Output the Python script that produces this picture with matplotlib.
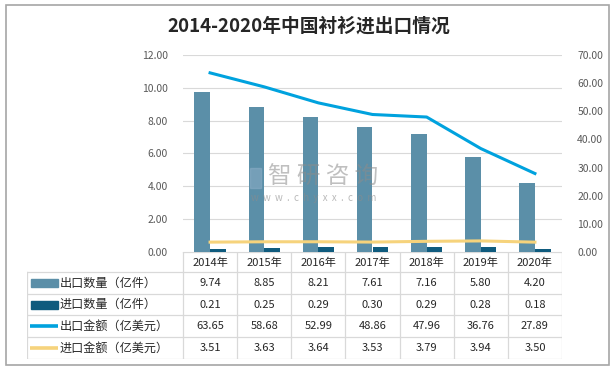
import matplotlib.pyplot as plt
import numpy as np
from matplotlib.patches import Rectangle

plt.rcParams['font.family'] = ['Noto Sans CJK SC', 'DejaVu Sans']

# data
years = ["2014年", "2015年", "2016年", "2017年", "2018年", "2019年", "2020年"]
export_qty = [9.74, 8.85, 8.21, 7.61, 7.16, 5.80, 4.20]      # 亿件
import_qty = [0.21, 0.25, 0.29, 0.30, 0.29, 0.28, 0.18]      # 亿件
export_val = [63.65, 58.68, 52.99, 48.86, 47.96, 36.76, 27.89]  # 亿美元
import_val = [3.51, 3.63, 3.64, 3.53, 3.79, 3.94, 3.50]      # 亿美元
series_names = ["出口数量（亿件）", "进口数量（亿件）", "出口金额（亿美元）", "进口金额（亿美元）"]

c_exq = "#5B8FA8"
c_imq = "#0F5B7E"
c_exv = "#00A2DE"
c_imv = "#F6D37C"
grid_c = "#D9D9D9"
txt_c = "#595959"

W, H = 614, 371
fig = plt.figure(figsize=(W / 100, H / 100), dpi=100)

def box(x0, y0, x1, y1):
    # pixel box (top-left origin) -> figure fraction rect
    return [x0 / W, 1 - y1 / H, (x1 - x0) / W, (y1 - y0) / H]

# outer border
fig.add_artist(Rectangle((6 / W, 1 - 365 / H), 603 / W, 360 / H, transform=fig.transFigure,
                         fill=False, edgecolor="#A6A6A6", lw=1.2))

fig.text(309 / W, 1 - 26 / H, "2014-2020年中国衬衫进出口情况", ha="center", va="center",
         fontsize=13.5, fontweight="bold", color="#262626")

# main plot
px0, px1, py0, py1 = 183, 562, 55, 252
ax = fig.add_axes(box(px0, py0, px1, py1))
x = np.arange(len(years))
bw = 0.29
ax.bar(x - bw / 2, export_qty, bw, color=c_exq, zorder=2)
ax.bar(x + bw / 2, import_qty, bw, color=c_imq, zorder=2)
ax.set_xlim(-0.5, len(years) - 0.5)
ax.set_ylim(0, 12)
ax.set_yticks(np.arange(0, 13, 2))
ax.set_yticklabels(["%.2f" % v for v in np.arange(0, 13, 2)])
ax.set_xticks([])
ax.grid(axis="y", color=grid_c, lw=0.8, zorder=0)
for s in ax.spines.values():
    s.set_visible(False)
ax.tick_params(axis="y", length=0, labelsize=7.5, labelcolor=txt_c, pad=11)

ax2 = ax.twinx()
ax2.plot(x, export_val, color=c_exv, lw=2.2, zorder=3)
ax2.plot(x, import_val, color=c_imv, lw=2.2, zorder=3)
ax2.set_ylim(0, 70)
ax2.set_yticks(np.arange(0, 71, 10))
ax2.set_yticklabels(["%.2f" % v for v in np.arange(0, 71, 10)])
for s in ax2.spines.values():
    s.set_visible(False)
ax2.tick_params(axis="y", length=0, labelsize=7.5, labelcolor=txt_c, pad=11)

# watermark
fig.text(323 / W, 1 - 177 / H, "智 研 咨 询", ha="center", va="center", fontsize=17,
         color="#8c8c8c", alpha=0.55)
fig.text(314 / W, 1 - 198 / H, "w  w  w  .  c  h  y  x  x  .  c  o  m", ha="center", va="center",
         fontsize=7, color="#8c8c8c", alpha=0.6)
fig.add_artist(Rectangle((250 / W, 1 - 188 / H), 11 / W, 20 / H, transform=fig.transFigure,
                         color="#8fb0c8", alpha=0.5))

# data table
tx0, ty0, ty1 = 27, 252, 359
hdr = 272
tab = fig.add_axes(box(tx0, ty0, px1, ty1))
tab.set_xlim(tx0, px1)
tab.set_ylim(ty1, ty0)
tab.axis("off")
colw = (px1 - px0) / len(years)
rowh = (ty1 - hdr) / len(series_names)
lw = 0.9
tab.plot([px0, px1], [ty0, ty0], color=grid_c, lw=lw)
for i in range(len(series_names) + 1):
    yy = hdr + i * rowh
    tab.plot([tx0, px1], [yy, yy], color=grid_c, lw=lw)
tab.plot([tx0, tx0], [hdr, ty1], color=grid_c, lw=lw)
for j in range(len(years) + 1):
    xx = px0 + j * colw
    tab.plot([xx, xx], [ty0, ty1], color=grid_c, lw=lw)

for j, yr in enumerate(years):
    tab.text(px0 + (j + 0.5) * colw, (ty0 + hdr) / 2 + 1, yr, ha="center", va="center",
             fontsize=8, color="#262626")

rows = [export_qty, import_qty, export_val, import_val]
colors = [c_exq, c_imq, c_exv, c_imv]
for i, (name, vals, c) in enumerate(zip(series_names, rows, colors)):
    yc = hdr + (i + 0.5) * rowh
    if i < 2:
        tab.add_patch(Rectangle((31, yc - 4), 27, 8, color=c))
    else:
        tab.plot([30, 58], [yc, yc], color=c, lw=2.6, solid_capstyle="butt")
    tab.text(60, yc, name, ha="left", va="center", fontsize=8.7, color="#262626")
    for j, v in enumerate(vals):
        tab.text(px0 + (j + 0.5) * colw, yc, "%.2f" % v, ha="center", va="center",
                 fontsize=8, color="#262626")

fig.savefig("out.png", dpi=100)
